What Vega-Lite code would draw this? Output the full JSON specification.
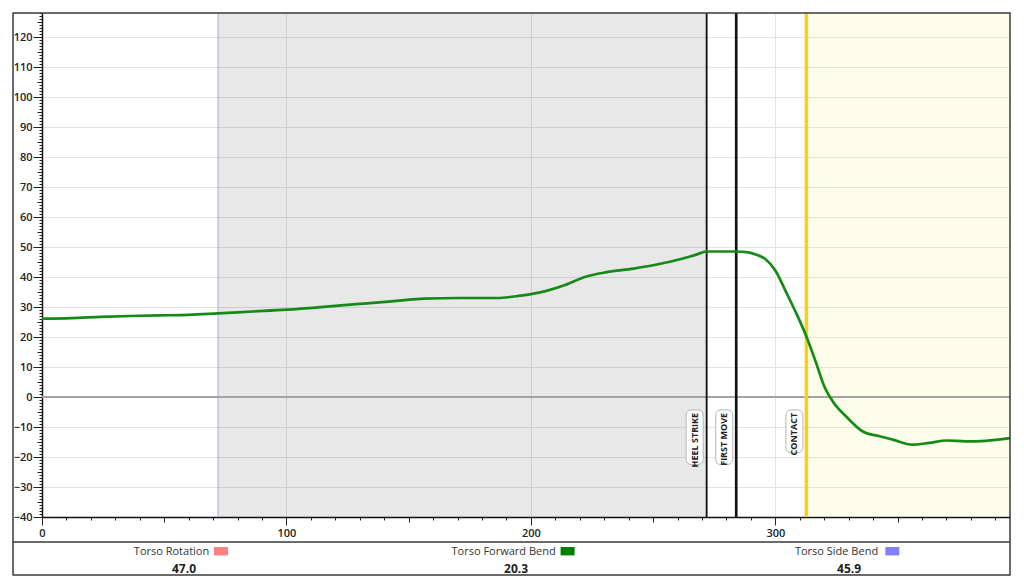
{
  "$schema": "https://vega.github.io/schema/vega-lite/v6.json",
  "width": 968,
  "height": 504,
  "autosize": {"type": "none"},
  "padding": {"left": 42, "top": 13, "right": 14, "bottom": 70},
  "background": "white",
  "config": {
    "view": {"stroke": null},
    "font": "Open Sans",
    "axis": {"title": null, "labelFont": "Open Sans", "labelFontSize": 11, "labelFontWeight": 600, "labelColor": "#222", "tickColor": "#222", "tickWidth": 1, "domainColor": "#111", "domainWidth": 1.5}
  },
  "datasets": {
    "curve": [
      {"frame": 0, "angle": 26.1}, {"frame": 12, "angle": 26.3}, {"frame": 24, "angle": 26.7}, {"frame": 36, "angle": 27.0},
      {"frame": 48, "angle": 27.2}, {"frame": 60, "angle": 27.4}, {"frame": 72, "angle": 27.9}, {"frame": 86, "angle": 28.5},
      {"frame": 100, "angle": 29.1}, {"frame": 113, "angle": 29.9}, {"frame": 120, "angle": 30.4}, {"frame": 133, "angle": 31.2},
      {"frame": 146, "angle": 32.1}, {"frame": 156, "angle": 32.8}, {"frame": 171, "angle": 33.0}, {"frame": 186, "angle": 33.0},
      {"frame": 195, "angle": 33.7}, {"frame": 206, "angle": 35.3}, {"frame": 214, "angle": 37.3}, {"frame": 222, "angle": 40.0},
      {"frame": 231, "angle": 41.6}, {"frame": 242, "angle": 42.8}, {"frame": 253, "angle": 44.4}, {"frame": 261, "angle": 45.9},
      {"frame": 267, "angle": 47.3}, {"frame": 272, "angle": 48.5}, {"frame": 278, "angle": 48.5}, {"frame": 284, "angle": 48.5},
      {"frame": 289, "angle": 48.2}, {"frame": 292, "angle": 47.5}, {"frame": 296, "angle": 45.9}, {"frame": 300, "angle": 42.2},
      {"frame": 304.5, "angle": 34.8}, {"frame": 308.5, "angle": 28.0}, {"frame": 312.7, "angle": 20.2}, {"frame": 316.7, "angle": 11.3},
      {"frame": 320, "angle": 3.6}, {"frame": 323.5, "angle": -1.5}, {"frame": 329, "angle": -6.5}, {"frame": 335.8, "angle": -11.5},
      {"frame": 342.6, "angle": -13.1}, {"frame": 348, "angle": -14.2}, {"frame": 356, "angle": -15.9}, {"frame": 363, "angle": -15.3},
      {"frame": 370, "angle": -14.5}, {"frame": 378, "angle": -14.8}, {"frame": 386, "angle": -14.6}, {"frame": 396, "angle": -13.7}
    ],
    "regions": [
      {"region": "delivery", "start": 72, "end": 271.9},
      {"region": "follow", "start": 312.7, "end": 396}
    ],
    "events": [
      {"event": "START", "frame": 72},
      {"event": "HEEL STRIKE", "frame": 271.9},
      {"event": "FIRST MOVE", "frame": 284},
      {"event": "CONTACT", "frame": 312.7}
    ],
    "legend": [
      {"series": "Torso Rotation", "value": "47.0"},
      {"series": "Torso Forward Bend", "value": "20.3"},
      {"series": "Torso Side Bend", "value": "45.9"}
    ]
  },
  "layer": [
    {
      "data": {"name": "regions"},
      "mark": {"type": "rect"},
      "encoding": {
        "x": {"field": "start", "type": "quantitative", "scale": {"domain": [0, 396], "nice": false, "zero": false},
              "axis": {"orient": "bottom", "values": [0, 10, 20, 30, 40, 50, 60, 70, 80, 90, 100, 110, 120, 130, 140, 150, 160, 170, 180, 190, 200, 210, 220, 230, 240, 250, 260, 270, 280, 290, 300, 310, 320, 330, 340, 350, 360, 370, 380, 390],
                       "tickCount": 40,
                       "labelExpr": "datum.value % 100 === 0 ? datum.label : ''",
                       "labelFlush": false, "labelOverlap": false,
                       "tickSize": {"expr": "datum.value % 100 === 0 ? 8 : (datum.value % 50 === 0 ? 5 : 3)"},
                       "labelPadding": 2, "grid": true, "gridColor": "#e3e3e3", "gridWidth": 1,
                       "gridOpacity": {"condition": {"test": "datum.value % 100 === 0", "value": 1}, "value": 0}}},
        "x2": {"field": "end"},
        "y": {"datum": -40, "type": "quantitative", "scale": {"domain": [-40, 128], "nice": false, "zero": false},
              "axis": {"orient": "left", "tickCount": 168,
                       "labelExpr": "datum.value % 10 === 0 ? datum.label : ''",
                       "labelFlush": false, "labelOverlap": false,
                       "tickSize": {"expr": "datum.value % 10 === 0 ? 9 : (datum.value % 5 === 0 ? 5 : 3)"},
                       "labelPadding": 1, "grid": true, "gridColor": "#e3e3e3", "gridWidth": 1,
                       "gridOpacity": {"condition": {"test": "datum.value % 10 === 0", "value": 1}, "value": 0}}},
        "y2": {"datum": 128},
        "color": {"field": "region", "type": "nominal", "scale": {"domain": ["delivery", "follow"], "range": ["#000000", "#f0f080"]}, "legend": null},
        "opacity": {"field": "region", "type": "nominal", "scale": {"domain": ["delivery", "follow"], "range": [0.09, 0.15]}, "legend": null}
      }
    },
    {
      "data": {"values": [{"level": 0}]},
      "mark": {"type": "rule", "color": "#a3a3a3", "strokeWidth": 2},
      "encoding": {
        "y": {"field": "level", "type": "quantitative", "scale": {"domain": [-40, 128], "nice": false, "zero": false}, "axis": null}
      }
    },
    {
      "data": {"name": "events"},
      "mark": {"type": "rule"},
      "encoding": {
        "x": {"field": "frame", "type": "quantitative", "scale": {"domain": [0, 396], "nice": false, "zero": false}, "axis": null},
        "color": {"field": "event", "type": "nominal", "scale": {"domain": ["START", "HEEL STRIKE", "FIRST MOVE", "CONTACT"], "range": ["#a9a9e4", "#111111", "#111111", "#f8cf1c"]}, "legend": null},
        "strokeWidth": {"field": "event", "type": "nominal", "scale": {"domain": ["START", "HEEL STRIKE", "FIRST MOVE", "CONTACT"], "range": [1, 3.5, 3.5, 4]}, "legend": null}
      }
    },
    {
      "data": {"name": "curve"},
      "mark": {"type": "line", "color": "#168a16", "strokeWidth": 2.7, "interpolate": "monotone"},
      "encoding": {
        "x": {"field": "frame", "type": "quantitative", "scale": {"domain": [0, 396], "nice": false, "zero": false}, "axis": null},
        "y": {"field": "angle", "type": "quantitative", "scale": {"domain": [-40, 128], "nice": false, "zero": false}, "axis": null}
      }
    },
    {
      "data": {"name": "events"},
      "transform": [{"filter": "datum.event === 'HEEL STRIKE' || datum.event === 'FIRST MOVE'"}],
      "mark": {"type": "rect", "fill": "white", "stroke": "#b5b5b5", "strokeWidth": 1, "cornerRadius": 5, "xOffset": -20.5, "x2Offset": -3.5},
      "encoding": {
        "x": {"field": "frame", "type": "quantitative", "scale": {"domain": [0, 396], "nice": false, "zero": false}, "axis": null},
        "x2": {"field": "frame"},
        "y": {"datum": -4.3, "type": "quantitative", "scale": {"domain": [-40, 128], "nice": false, "zero": false}, "axis": null},
        "y2": {"datum": -22.5}
      }
    },
    {
      "data": {"name": "events"},
      "transform": [{"filter": "datum.event === 'CONTACT'"}],
      "mark": {"type": "rect", "fill": "white", "stroke": "#b5b5b5", "strokeWidth": 1, "cornerRadius": 5, "xOffset": -20.5, "x2Offset": -3.5},
      "encoding": {
        "x": {"field": "frame", "type": "quantitative", "scale": {"domain": [0, 396], "nice": false, "zero": false}, "axis": null},
        "x2": {"field": "frame"},
        "y": {"datum": -4.3, "type": "quantitative", "scale": {"domain": [-40, 128], "nice": false, "zero": false}, "axis": null},
        "y2": {"datum": -18.6}
      }
    },
    {
      "data": {"name": "events"},
      "transform": [{"filter": "datum.event !== 'START'"}],
      "mark": {"type": "text", "angle": 270, "align": "right", "baseline": "middle", "fontSize": 9, "fontWeight": "bold", "font": "Open Sans", "color": "#222", "xOffset": -12},
      "encoding": {
        "x": {"field": "frame", "type": "quantitative", "scale": {"domain": [0, 396], "nice": false, "zero": false}, "axis": null},
        "y": {"datum": -5.3, "type": "quantitative", "scale": {"domain": [-40, 128], "nice": false, "zero": false}, "axis": null},
        "text": {"field": "event"}
      }
    },
    {
      "data": {"values": [{"panel": "frame"}]},
      "mark": {"type": "rect", "fill": null, "fillOpacity": 0, "stroke": "#3a3a3a", "strokeWidth": 1.5},
      "encoding": {
        "x": {"datum": -11.86, "type": "quantitative", "scale": {"domain": [0, 396], "nice": false, "zero": false}, "axis": null},
        "x2": {"datum": 396},
        "y": {"datum": 128, "type": "quantitative", "scale": {"domain": [-40, 128], "nice": false, "zero": false}, "axis": null},
        "y2": {"datum": -59.33}
      }
    },
    {
      "data": {"values": [{"panel": "separator"}]},
      "mark": {"type": "rule", "color": "#3a3a3a", "strokeWidth": 1.5},
      "encoding": {
        "x": {"datum": -11.86, "type": "quantitative", "scale": {"domain": [0, 396], "nice": false, "zero": false}, "axis": null},
        "x2": {"datum": 396},
        "y": {"datum": -48.33, "type": "quantitative", "scale": {"domain": [-40, 128], "nice": false, "zero": false}, "axis": null}
      }
    },
    {
      "data": {"name": "legend"},
      "transform": [{"filter": "datum.series === 'Torso Rotation'"}],
      "mark": {"type": "text", "xOffset": -7.5, "fontSize": 11, "color": "#333", "baseline": "middle", "font": "Open Sans"},
      "encoding": {
        "x": {"datum": 56.05, "type": "quantitative", "scale": {"domain": [0, 396], "nice": false, "zero": false}, "axis": null},
        "y": {"datum": -51.7, "type": "quantitative", "scale": {"domain": [-40, 128], "nice": false, "zero": false}, "axis": null},
        "text": {"field": "series"}
      }
    },
    {
      "data": {"name": "legend"},
      "transform": [{"filter": "datum.series === 'Torso Forward Bend'"}],
      "mark": {"type": "text", "xOffset": -7.5, "fontSize": 11, "color": "#333", "baseline": "middle", "font": "Open Sans"},
      "encoding": {
        "x": {"datum": 191.9, "type": "quantitative", "scale": {"domain": [0, 396], "nice": false, "zero": false}, "axis": null},
        "y": {"datum": -51.7, "type": "quantitative", "scale": {"domain": [-40, 128], "nice": false, "zero": false}, "axis": null},
        "text": {"field": "series"}
      }
    },
    {
      "data": {"name": "legend"},
      "transform": [{"filter": "datum.series === 'Torso Side Bend'"}],
      "mark": {"type": "text", "xOffset": -7.5, "fontSize": 11, "color": "#333", "baseline": "middle", "font": "Open Sans"},
      "encoding": {
        "x": {"datum": 328.1, "type": "quantitative", "scale": {"domain": [0, 396], "nice": false, "zero": false}, "axis": null},
        "y": {"datum": -51.7, "type": "quantitative", "scale": {"domain": [-40, 128], "nice": false, "zero": false}, "axis": null},
        "text": {"field": "series"}
      }
    },
    {
      "data": {"name": "legend"},
      "transform": [{"filter": "datum.series === 'Torso Rotation'"}],
      "mark": {"type": "text", "xOffset": 5, "fontSize": 12, "fontWeight": "bold", "color": "#222", "baseline": "middle", "font": "Open Sans"},
      "encoding": {
        "x": {"datum": 56.05, "type": "quantitative", "scale": {"domain": [0, 396], "nice": false, "zero": false}, "axis": null},
        "y": {"datum": -57.4, "type": "quantitative", "scale": {"domain": [-40, 128], "nice": false, "zero": false}, "axis": null},
        "text": {"field": "value"}
      }
    },
    {
      "data": {"name": "legend"},
      "transform": [{"filter": "datum.series === 'Torso Forward Bend'"}],
      "mark": {"type": "text", "xOffset": 5, "fontSize": 12, "fontWeight": "bold", "color": "#222", "baseline": "middle", "font": "Open Sans"},
      "encoding": {
        "x": {"datum": 191.9, "type": "quantitative", "scale": {"domain": [0, 396], "nice": false, "zero": false}, "axis": null},
        "y": {"datum": -57.4, "type": "quantitative", "scale": {"domain": [-40, 128], "nice": false, "zero": false}, "axis": null},
        "text": {"field": "value"}
      }
    },
    {
      "data": {"name": "legend"},
      "transform": [{"filter": "datum.series === 'Torso Side Bend'"}],
      "mark": {"type": "text", "xOffset": 5, "fontSize": 12, "fontWeight": "bold", "color": "#222", "baseline": "middle", "font": "Open Sans"},
      "encoding": {
        "x": {"datum": 328.1, "type": "quantitative", "scale": {"domain": [0, 396], "nice": false, "zero": false}, "axis": null},
        "y": {"datum": -57.4, "type": "quantitative", "scale": {"domain": [-40, 128], "nice": false, "zero": false}, "axis": null},
        "text": {"field": "value"}
      }
    },
    {
      "data": {"name": "legend"},
      "transform": [{"filter": "datum.series === 'Torso Rotation'"}],
      "mark": {"type": "point", "filled": true, "opacity": 1, "color": "#ff8080", "shape": "M-1,-0.6H1V0.6H-1Z", "size": 196, "xOffset": 42},
      "encoding": {
        "x": {"datum": 56.05, "type": "quantitative", "scale": {"domain": [0, 396], "nice": false, "zero": false}, "axis": null},
        "y": {"datum": -51.4, "type": "quantitative", "scale": {"domain": [-40, 128], "nice": false, "zero": false}, "axis": null}
      }
    },
    {
      "data": {"name": "legend"},
      "transform": [{"filter": "datum.series === 'Torso Forward Bend'"}],
      "mark": {"type": "point", "filled": true, "opacity": 1, "color": "#008000", "shape": "M-1,-0.6H1V0.6H-1Z", "size": 196, "xOffset": 56.5},
      "encoding": {
        "x": {"datum": 191.9, "type": "quantitative", "scale": {"domain": [0, 396], "nice": false, "zero": false}, "axis": null},
        "y": {"datum": -51.4, "type": "quantitative", "scale": {"domain": [-40, 128], "nice": false, "zero": false}, "axis": null}
      }
    },
    {
      "data": {"name": "legend"},
      "transform": [{"filter": "datum.series === 'Torso Side Bend'"}],
      "mark": {"type": "point", "filled": true, "opacity": 1, "color": "#8080ff", "shape": "M-1,-0.6H1V0.6H-1Z", "size": 196, "xOffset": 48.3},
      "encoding": {
        "x": {"datum": 328.1, "type": "quantitative", "scale": {"domain": [0, 396], "nice": false, "zero": false}, "axis": null},
        "y": {"datum": -51.4, "type": "quantitative", "scale": {"domain": [-40, 128], "nice": false, "zero": false}, "axis": null}
      }
    }
  ],
  "resolve": {
    "scale": {"color": "independent", "strokeWidth": "independent", "opacity": "independent"},
    "axis": {"x": "independent", "y": "independent"}
  }
}
